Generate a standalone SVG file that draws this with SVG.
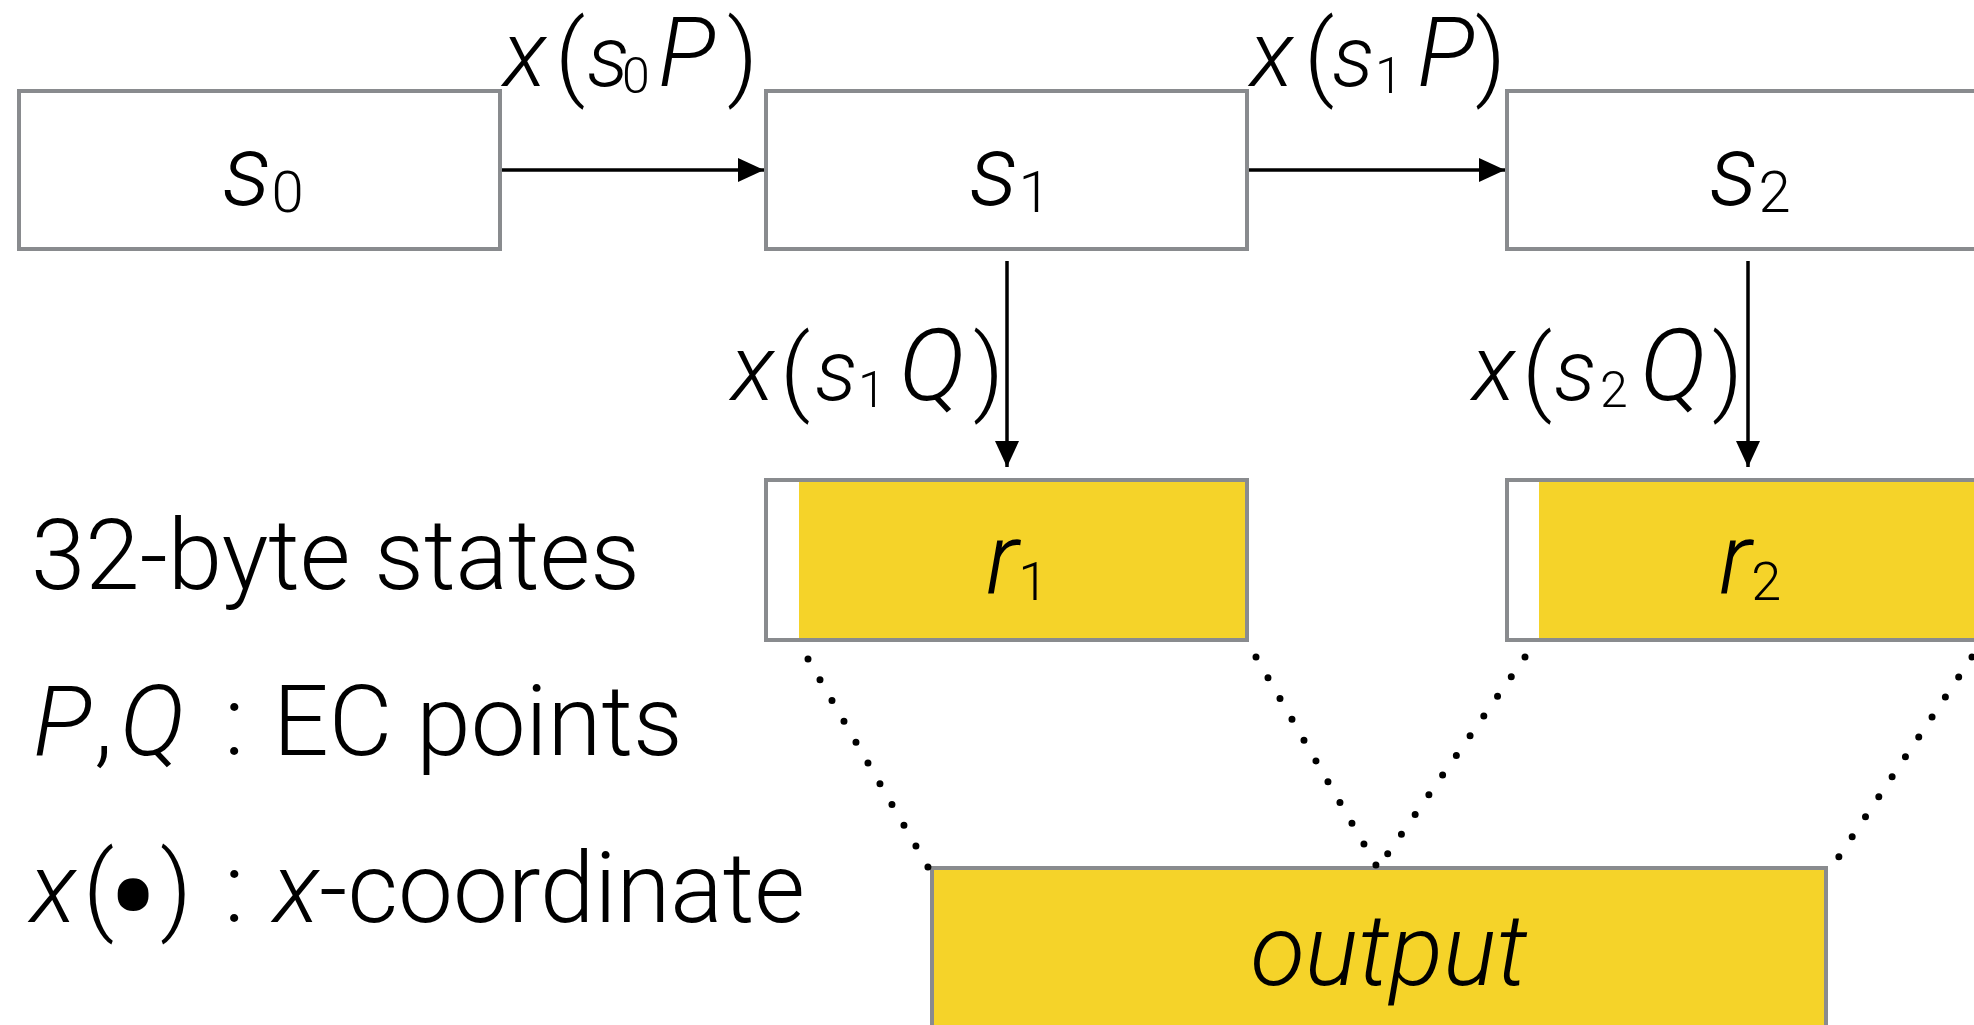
<svg xmlns="http://www.w3.org/2000/svg" width="1974" height="1025" viewBox="0 0 1974 1025">
<style>
.t{font-family:Roboto,"Liberation Sans",sans-serif;font-weight:300;fill:#000}
.i{font-style:italic}
.box{fill:#fff;stroke:#898b8e;stroke-width:4}
.ybox{fill:#f5d329;stroke:#898b8e;stroke-width:4}
.arr{stroke:#000;stroke-width:3.5;fill:none}
.dot{stroke:#000;stroke-width:7;stroke-linecap:round;stroke-dasharray:0 24;fill:none}
</style>
<defs>
<marker id="ah" markerUnits="userSpaceOnUse" markerWidth="26" markerHeight="24" refX="26" refY="12" orient="auto">
<path d="M0,0 L26,12 L0,24 z" fill="#000"/>
</marker>
</defs>
<rect width="1974" height="1025" fill="#fff"/>

<g id="s0">
<rect class="box" x="19" y="91" width="481" height="158"/>
<text class="t" x="263" y="205" text-anchor="middle"><tspan class="i" font-size="100">s</tspan><tspan font-size="58" dy="7">0</tspan></text>
</g>
<g id="s1">
<rect class="box" x="766" y="91" width="481" height="158"/>
<text class="t" x="1010" y="205" text-anchor="middle"><tspan class="i" font-size="100">s</tspan><tspan font-size="58" dy="7">1</tspan></text>
</g>
<g id="s2">
<rect class="box" x="1507" y="91" width="481" height="158"/>
<text class="t" x="1750" y="205" text-anchor="middle"><tspan class="i" font-size="100">s</tspan><tspan font-size="58" dy="7">2</tspan></text>
</g>
<g id="r1">
<rect class="ybox" x="766" y="480" width="481" height="160"/>
<rect x="768" y="482" width="31" height="156" fill="#fff"/>
<text class="t" x="1017" y="593" text-anchor="middle"><tspan class="i" font-size="100">r</tspan><tspan font-size="54" dy="7">1</tspan></text>
</g>
<g id="r2">
<rect class="ybox" x="1507" y="480" width="481" height="160"/>
<rect x="1509" y="482" width="30" height="156" fill="#fff"/>
<text class="t" x="1750" y="593" text-anchor="middle"><tspan class="i" font-size="100">r</tspan><tspan font-size="54" dy="7">2</tspan></text>
</g>
<g id="output">
<rect class="ybox" x="932" y="868" width="894" height="200"/>
<text class="t i" x="1389" y="985" text-anchor="middle" font-size="100">output</text>
</g>

<g id="connectors">
<line class="arr" x1="502" y1="170" x2="764" y2="170" marker-end="url(#ah)"/>
<line class="arr" x1="1249" y1="170" x2="1505" y2="170" marker-end="url(#ah)"/>
<line class="arr" x1="1007" y1="261" x2="1007" y2="467" marker-end="url(#ah)"/>
<line class="arr" x1="1748" y1="261" x2="1748" y2="467" marker-end="url(#ah)"/>
<line class="dot" x1="808" y1="659" x2="928" y2="867"/>
<line class="dot" x1="1256" y1="657" x2="1376" y2="865"/>
<line class="dot" x1="1525" y1="657" x2="1382" y2="862"/>
<line class="dot" x1="1972" y1="657" x2="1834" y2="864"/>
</g>

<g id="labels">
<text class="t" y="86"><tspan class="i" x="503" font-size="92">x</tspan><tspan x="555" font-size="95" y="88">(</tspan><tspan class="i" x="587" y="86" font-size="86">s</tspan><tspan x="622" y="93" font-size="50">0</tspan><tspan class="i" x="658" y="86" font-size="96">P</tspan><tspan x="727" y="88" font-size="95">)</tspan></text>
<text class="t" y="86"><tspan class="i" x="1250" font-size="92">x</tspan><tspan x="1304" font-size="95" y="88">(</tspan><tspan class="i" x="1332" y="86" font-size="86">s</tspan><tspan x="1375" y="93" font-size="50">1</tspan><tspan class="i" x="1417" y="86" font-size="96">P</tspan><tspan x="1475" y="88" font-size="95">)</tspan></text>
<text class="t" y="400"><tspan class="i" x="731" font-size="92">x</tspan><tspan x="780" font-size="95" y="403">(</tspan><tspan class="i" x="815" y="400" font-size="86">s</tspan><tspan x="858" y="407" font-size="50">1</tspan><tspan class="i" x="899" y="400" font-size="100">Q</tspan><tspan x="973" y="403" font-size="95">)</tspan></text>
<text class="t" y="400"><tspan class="i" x="1472" font-size="92">x</tspan><tspan x="1522" font-size="95" y="403">(</tspan><tspan class="i" x="1554" y="400" font-size="86">s</tspan><tspan x="1600" y="407" font-size="50">2</tspan><tspan class="i" x="1640" y="400" font-size="100">Q</tspan><tspan x="1712" y="403" font-size="95">)</tspan></text>
</g>

<g id="legend">
<text class="t" x="31" y="589" font-size="98">32-byte states</text>
<text class="t" y="755" font-size="98"><tspan class="i" x="33">P</tspan><tspan x="94">,</tspan><tspan class="i" x="120">Q</tspan><tspan x="224">:</tspan><tspan x="273">EC points</tspan></text>
<text class="t" y="922" font-size="98"><tspan class="i" x="30">x</tspan><tspan x="83">(</tspan><tspan x="160">)</tspan><tspan x="224">:</tspan><tspan class="i" x="273">x</tspan><tspan>-coordinate</tspan></text>
<text class="t" x="133" y="956" font-size="170" text-anchor="middle">•</text>
</g>
</svg>
